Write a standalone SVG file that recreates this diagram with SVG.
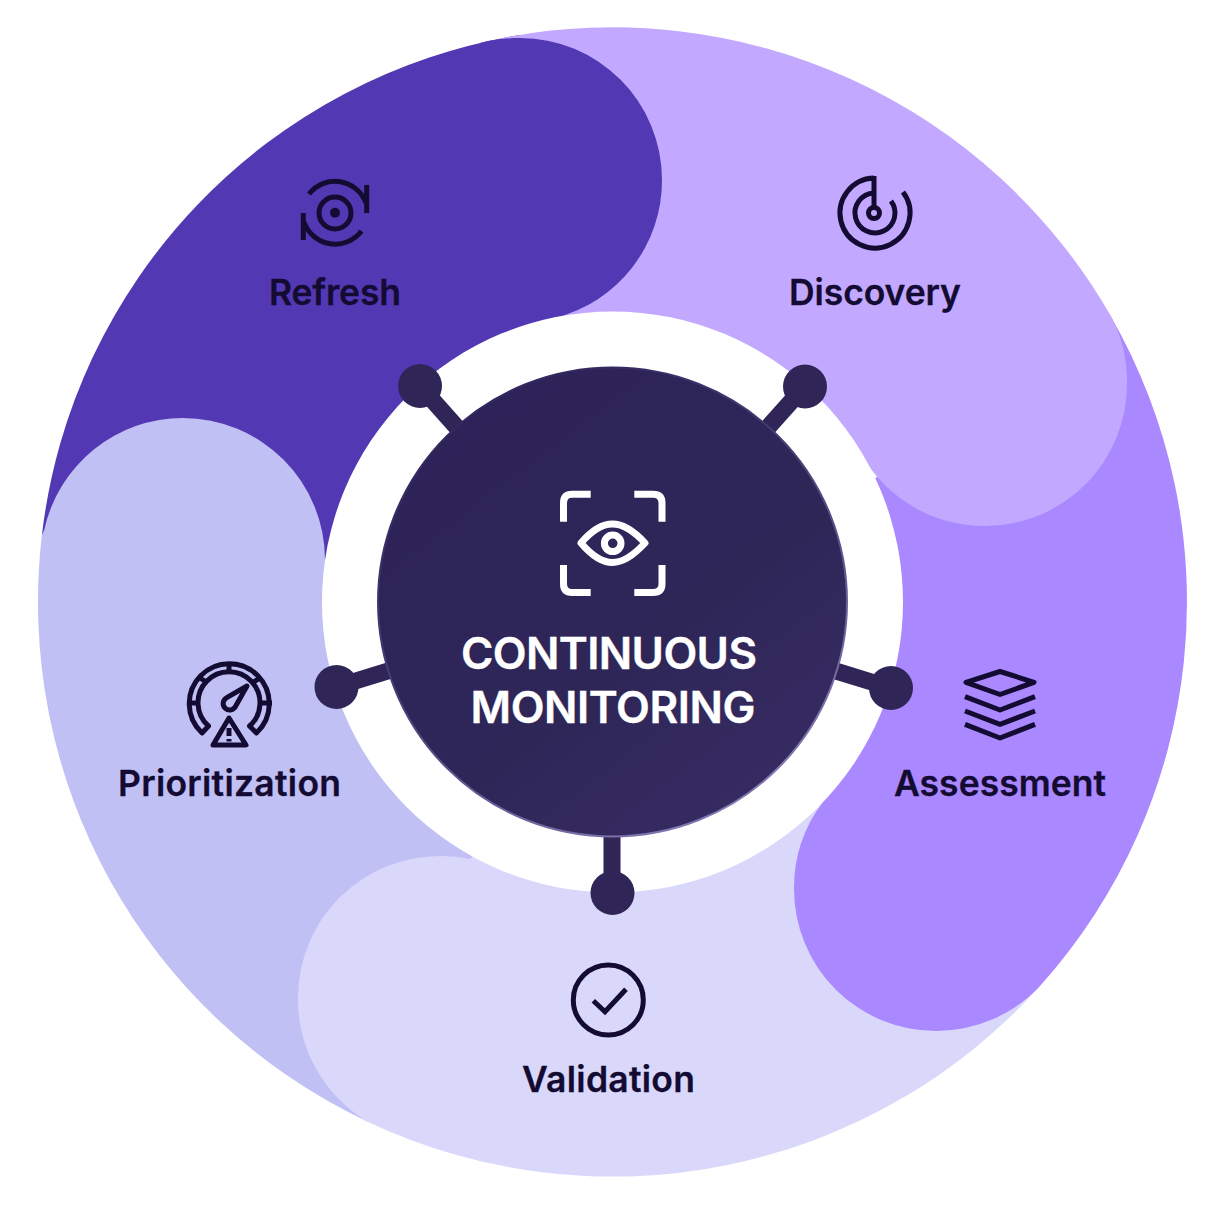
<svg xmlns="http://www.w3.org/2000/svg" width="1227" height="1205" viewBox="0 0 1227 1205">
<style>
text{font-family:"Inter","Liberation Sans",sans-serif}
.lbl{font-size:35.500px;font-weight:600;fill:#140b33;text-anchor:middle;stroke:#140b33;stroke-width:0.300px}
.ttl{font-size:44px;font-weight:600;fill:#fff;text-anchor:middle;stroke:#fff;stroke-width:0.400px}
.ic{fill:none;stroke:#140b33;stroke-width:5}
.wh{fill:none;stroke:#fff;stroke-width:7}
.con{stroke:#2f2556;stroke-width:17;fill:none}
.dot{fill:#2f2556}
</style>
<defs>
<linearGradient id="g" x1="0.2" y1="0.1" x2="0.85" y2="0.95"><stop offset="0" stop-color="#2d2358"/><stop offset="0.6" stop-color="#2f2658"/><stop offset="1" stop-color="#372c63"/></linearGradient>
<linearGradient id="e" x1="0.2" y1="0" x2="0.8" y2="1"><stop offset="0" stop-color="#2d2358"/><stop offset="0.45" stop-color="#4a4078"/><stop offset="1" stop-color="#8a80b8"/></linearGradient>
</defs>
<rect width="1227" height="1205" fill="#fff"/>
<g id="ring">
<path id="seg-refresh-base" fill="#5239b3" d="M41.900 535A574.500 574.500 0 0 1 520 35L612 602Z"/>
<path id="seg-prioritization" fill="#c1c0f5" d="M41.900 535L44.200 530A142 142 0 0 1 183 418A142 142 0 0 1 325 560L325 600L500 780L470 900L368 1121.900A574.500 574.500 0 0 1 41.900 535Z"/>
<path id="seg-validation" fill="#d9d8fb" d="M368 1121.900A142 142 0 0 1 298 998A142 142 0 0 1 440 856A142 142 0 0 1 470 859L612 700L800 760L900 900L1040 986A574.500 574.500 0 0 1 368 1121.900Z"/>
<path id="seg-assessment" fill="#aa88ff" d="M1110 315A574.500 574.500 0 0 1 1040 986A142 142 0 0 1 936 1031A142 142 0 0 1 794 889A142 142 0 0 1 823 802L700 600Z"/>
<path id="seg-discovery" fill="#c2a9ff" d="M500 38.500A574.500 574.500 0 0 1 1112 318A142 142 0 0 1 1127 384A142 142 0 0 1 985 526A142 142 0 0 1 868 465L612 600Z"/>
<path id="seg-refresh" fill="#5239b3" d="M480 43C495 39 508 38 520 38A142 142 0 0 1 662 180A142 142 0 0 1 555 318L400 500L330 300Z"/>
<circle cx="612.500" cy="602" r="290.500" fill="#fff"/>
</g>
<g id="connectors">
<path class="con" d="M420 386L612 602M805 386L612 602M336 687L612 602M891 688L612 602M612 893V602"/>
</g>
<g id="node-refresh-dot"><circle class="dot" cx="420" cy="386" r="22"/></g>
<g id="node-discovery-dot"><circle class="dot" cx="805" cy="386.500" r="22"/></g>
<g id="node-prioritization-dot"><circle class="dot" cx="336.500" cy="687" r="22"/></g>
<g id="node-assessment-dot"><circle class="dot" cx="891" cy="688" r="22"/></g>
<g id="node-validation-dot"><circle class="dot" cx="612.500" cy="893" r="22"/></g>
<g id="node-center">
<circle cx="612.500" cy="602" r="234.500" fill="url(#g)" stroke="url(#e)" stroke-width="2"/>
<g class="wh">
<path d="M590.700 494.300H572Q563.500 494.300 563.500 503V521.700M634.300 494.300H653Q662 494.300 662 503V521.700M563.500 565V584Q563.500 592.500 572 592.500H590.700M634.300 592.500H653Q662 592.500 662 584V565"/>
<path d="M581 543C592 530 602 524 612.500 524C623 524 633 530 645 543C633 556 623 562.500 612.500 562.500C602 562.500 592 556 581 543Z" stroke-linejoin="round"/>
<circle cx="612.700" cy="543.300" r="8.300"/>
</g>
<text class="ttl" x="609" y="669" textLength="296">CONTINUOUS</text>
<text class="ttl" x="613" y="723" textLength="285">MONITORING</text>
</g>
<g id="node-refresh">
<g class="ic">
<path d="M309 194A33 33 0 0 1 366 203M366.700 185V213M361.500 231A33 33 0 0 1 304 222M303.300 213V240"/>
<circle cx="335" cy="213" r="16"/>
</g>
<circle cx="335" cy="212.700" r="5" fill="#140b33"/>
<text class="lbl" x="335" y="305" textLength="132">Refresh</text>
</g>
<g id="node-discovery">
<g class="ic">
<path d="M874 176V206M874 178A35 35 0 1 0 903 192"/>
<path d="M874 193A20 20 0 1 0 891 201"/>
<circle cx="874" cy="213" r="5.500"/>
</g>
<text class="lbl" x="875" y="305" textLength="172">Discovery</text>
</g>
<g id="node-prioritization">
<g class="ic" stroke-width="4.500" stroke-linejoin="round">
<path d="M202 733A40 40 0 1 1 256.500 733L249.500 726A31 31 0 1 0 208.500 726Z"/>
<path d="M229 664V674M200 678L208 683M252 683L260 678M187 703H198M261 703H272"/>
<path d="M226.700 697.700L247 686L235.300 706.700A6.500 6.500 0 1 1 226.700 697.700Z"/>
<path d="M229 718L246 745H213Z"/>
<path d="M229 728V736M229 739V741.500"/>
</g>
<text class="lbl" x="229.500" y="796" textLength="223">Prioritization</text>
</g>
<g id="node-assessment">
<g class="ic" stroke-linejoin="round">
<path d="M1000 671.500L1034 682.300L1000 694.500L966 682.300Z"/>
<path d="M965 696.700L1000 710L1035 696.700M965 711L1000 724.300L1035 711M965 724.300L1000 738L1035 724.300"/>
</g>
<text class="lbl" x="1000" y="796" textLength="212">Assessment</text>
</g>
<g id="node-validation">
<g class="ic">
<circle cx="608.300" cy="1000" r="35"/>
<path d="M593.300 1000.700L605 1011.700L626 989.300"/>
</g>
<text class="lbl" x="608.500" y="1092" textLength="173">Validation</text>
</g>
</svg>
